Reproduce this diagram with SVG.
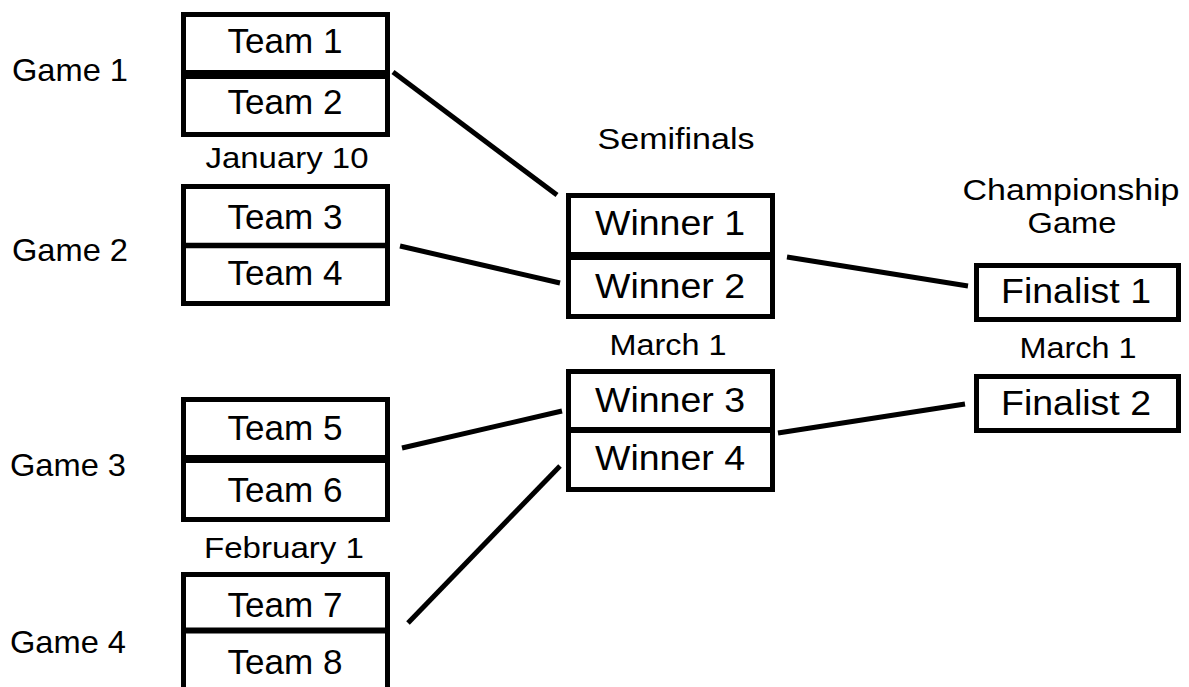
<svg xmlns="http://www.w3.org/2000/svg" width="1189" height="687" viewBox="0 0 1189 687">
<style>
.box{fill:#fff;stroke:#000;stroke-width:5}
.div{stroke:#000}
.t{font-family:"Liberation Sans",Arial,sans-serif;fill:#000;text-anchor:middle}
.team{font-size:35px}
.lbl{font-size:30px}
.game{font-size:32px;text-anchor:start}
.conn line{stroke:#000;stroke-width:5}
</style>
<rect width="1189" height="687" fill="#fff"/>
<g id="labels">
<text class="t game" x="12" y="81" textLength="116" lengthAdjust="spacingAndGlyphs">Game 1</text>
<text class="t game" x="12" y="261" textLength="116" lengthAdjust="spacingAndGlyphs">Game 2</text>
<text class="t game" x="10" y="476" textLength="116" lengthAdjust="spacingAndGlyphs">Game 3</text>
<text class="t game" x="10" y="653" textLength="116" lengthAdjust="spacingAndGlyphs">Game 4</text>
<text class="t lbl" x="287" y="168" textLength="163" lengthAdjust="spacingAndGlyphs">January 10</text>
<text class="t lbl" x="284" y="558" textLength="160" lengthAdjust="spacingAndGlyphs">February 1</text>
<text class="t lbl" x="676" y="149" textLength="157" lengthAdjust="spacingAndGlyphs">Semifinals</text>
<text class="t lbl" x="668" y="355" textLength="117" lengthAdjust="spacingAndGlyphs">March 1</text>
<text class="t lbl" x="1071" y="200" textLength="217" lengthAdjust="spacingAndGlyphs">Championship</text>
<text class="t lbl" x="1072" y="233" textLength="89" lengthAdjust="spacingAndGlyphs">Game</text>
<text class="t lbl" x="1078" y="358" textLength="117" lengthAdjust="spacingAndGlyphs">March 1</text>
</g>
<g id="game1">
<rect class="box" x="183.5" y="14.5" width="204" height="120"/>
<line class="div" x1="181" y1="74.5" x2="390" y2="74.5" stroke-width="9"/>
<text class="t team" x="285" y="53" textLength="115" lengthAdjust="spacingAndGlyphs">Team 1</text>
<text class="t team" x="285" y="114" textLength="115" lengthAdjust="spacingAndGlyphs">Team 2</text>
</g>
<g id="game2">
<rect class="box" x="183.5" y="186.5" width="204" height="117"/>
<line class="div" x1="181" y1="245.5" x2="390" y2="245.5" stroke-width="5.5"/>
<text class="t team" x="285" y="229" textLength="115" lengthAdjust="spacingAndGlyphs">Team 3</text>
<text class="t team" x="285" y="285" textLength="115" lengthAdjust="spacingAndGlyphs">Team 4</text>
</g>
<g id="game3">
<rect class="box" x="183.5" y="399.5" width="204" height="120"/>
<line class="div" x1="181" y1="459" x2="390" y2="459" stroke-width="8"/>
<text class="t team" x="285" y="440" textLength="115" lengthAdjust="spacingAndGlyphs">Team 5</text>
<text class="t team" x="285" y="502" textLength="115" lengthAdjust="spacingAndGlyphs">Team 6</text>
</g>
<g id="game4">
<rect class="box" x="183.5" y="574.5" width="204" height="130"/>
<line class="div" x1="181" y1="630.5" x2="390" y2="630.5" stroke-width="6"/>
<text class="t team" x="285" y="617" textLength="115" lengthAdjust="spacingAndGlyphs">Team 7</text>
<text class="t team" x="285" y="674" textLength="115" lengthAdjust="spacingAndGlyphs">Team 8</text>
</g>
<g id="semi1">
<rect class="box" x="568.5" y="195.5" width="204" height="121"/>
<line class="div" x1="566" y1="256" x2="775" y2="256" stroke-width="8"/>
<text class="t team" x="670" y="235" textLength="150" lengthAdjust="spacingAndGlyphs">Winner 1</text>
<text class="t team" x="670" y="298" textLength="150" lengthAdjust="spacingAndGlyphs">Winner 2</text>
</g>
<g id="semi2">
<rect class="box" x="568.5" y="371.5" width="204" height="118"/>
<line class="div" x1="566" y1="430" x2="775" y2="430" stroke-width="6"/>
<text class="t team" x="670" y="412" textLength="150" lengthAdjust="spacingAndGlyphs">Winner 3</text>
<text class="t team" x="670" y="470" textLength="150" lengthAdjust="spacingAndGlyphs">Winner 4</text>
</g>
<g id="final1">
<rect class="box" x="976.5" y="265.5" width="202" height="54"/>
<text class="t team" x="1076" y="303" textLength="150" lengthAdjust="spacingAndGlyphs">Finalist 1</text>
</g>
<g id="final2">
<rect class="box" x="976.5" y="376.5" width="202" height="54"/>
<text class="t team" x="1076" y="415" textLength="150" lengthAdjust="spacingAndGlyphs">Finalist 2</text>
</g>
<g id="connectors" class="conn">
<line x1="393" y1="72" x2="557" y2="195"/>
<line x1="400" y1="246" x2="560" y2="283"/>
<line x1="402" y1="448" x2="562" y2="411"/>
<line x1="408" y1="623" x2="560" y2="466"/>
<line x1="787" y1="257" x2="968" y2="286"/>
<line x1="778" y1="433" x2="965" y2="404"/>
</g>
</svg>
